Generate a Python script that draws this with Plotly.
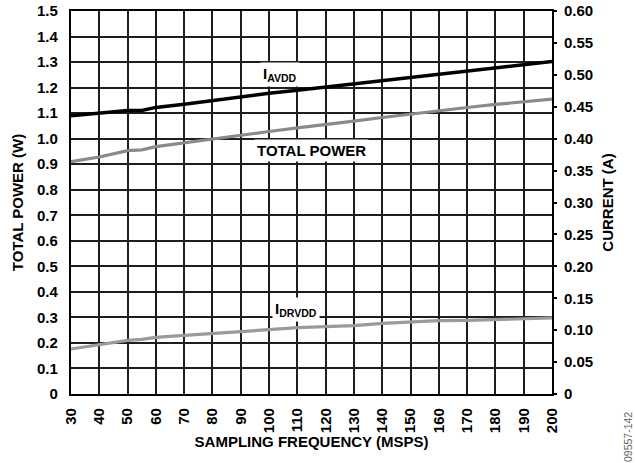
import plotly.graph_objects as go

# Data
freq = [30, 40, 50, 55, 60, 70, 80, 90, 100, 110, 120, 130, 140, 150, 160, 170, 180, 190, 200]
total_power_w = [0.910, 0.928, 0.953, 0.956, 0.969, 0.984, 1.001, 1.014, 1.028, 1.042,
                 1.054, 1.069, 1.083, 1.097, 1.108, 1.122, 1.134, 1.146, 1.155]
i_avdd_a = [0.436, 0.440, 0.444, 0.444, 0.449, 0.454, 0.460, 0.465, 0.471, 0.476,
            0.481, 0.486, 0.491, 0.496, 0.501, 0.506, 0.511, 0.516, 0.521]
i_drvdd_a = [0.0705, 0.0777, 0.0840, 0.0855, 0.0887, 0.0918, 0.0945, 0.0976, 0.1007, 0.1039,
             0.1050, 0.1070, 0.1106, 0.1128, 0.1148, 0.1153, 0.1169, 0.1180, 0.1191]

x_ticks = list(range(30, 201, 10))
left_vals = [round(0.1 * i, 1) for i in range(16)]
left_text = ["0"] + [f"{v:.1f}" for v in left_vals[1:]]
right_vals = [round(0.05 * i, 2) for i in range(13)]
right_text = ["0"] + [f"{v:.2f}" for v in right_vals[1:]]

FONT = "Arial, Liberation Sans, sans-serif"
tickfont = dict(family=FONT, size=15, color="black", weight="bold")
GRID = "#1e1e1e"

fig = go.Figure()
fig.add_trace(go.Scatter(x=freq, y=total_power_w, mode="lines", yaxis="y",
                         line=dict(color="#8a8a8a", width=3.2), showlegend=False))
fig.add_trace(go.Scatter(x=freq, y=i_avdd_a, mode="lines", yaxis="y2",
                         line=dict(color="black", width=3.5), showlegend=False))
fig.add_trace(go.Scatter(x=freq, y=i_drvdd_a, mode="lines", yaxis="y2",
                         line=dict(color="#9a9a9a", width=3.2), showlegend=False))

fig.update_layout(
    width=635, height=463,
    margin=dict(l=71, r=83, t=11, b=69, autoexpand=False),
    paper_bgcolor="white", plot_bgcolor="white",
    font=dict(family=FONT, color="black"),
    xaxis=dict(range=[30, 200], tickvals=x_ticks, ticktext=[str(v) for v in x_ticks],
               tickangle=-90, tickfont=tickfont, showgrid=True, gridcolor=GRID,
               gridwidth=1.5, zeroline=False, showline=True, linecolor="black",
               linewidth=2.2, mirror=True, ticks="", ticklabelstandoff=6,
               automargin=False, ticklabeloverflow="allow",
               title=dict(text="SAMPLING FREQUENCY (MSPS)",
                          font=dict(family=FONT, size=15, weight="bold"), standoff=4)),
    yaxis=dict(range=[0, 1.5], tickvals=left_vals, ticktext=left_text, tickfont=tickfont,
               showgrid=True, gridcolor=GRID, gridwidth=1.5, zeroline=False,
               showline=True, linecolor="black", linewidth=2.2, mirror=True, ticks="",
               ticklabelstandoff=8, automargin=False, ticklabeloverflow="allow",
               title=dict(text="TOTAL POWER (W)",
                          font=dict(family=FONT, size=15, weight="bold"), standoff=10)),
    yaxis2=dict(range=[0, 0.6], tickvals=right_vals, ticktext=right_text, tickfont=tickfont,
                overlaying="y", side="right", anchor="x", showgrid=False, zeroline=False,
                ticks="outside", ticklen=4, tickwidth=1.5, tickcolor="black",
                ticklabelstandoff=4, automargin=False, ticklabeloverflow="allow",
                title=dict(text="CURRENT (A)",
                           font=dict(family=FONT, size=15, weight="bold"), standoff=10)),
    yaxis3=dict(range=[0, 0.6], tickvals=right_vals[1:-1], overlaying="y", side="right",
                anchor="x", showgrid=False, zeroline=False, showticklabels=False,
                ticks="inside", ticklen=4, tickwidth=1.5, tickcolor="black",
                automargin=False),
)

label_font = dict(family=FONT, size=15, color="black", weight="bold")
fig.add_annotation(x=104, y=1.25, xref="x", yref="y", text="I<sub>AVDD</sub>",
                   showarrow=False, font=label_font, bgcolor="white", borderpad=2)
fig.add_annotation(x=115, y=0.955, xref="x", yref="y", text="TOTAL POWER",
                   showarrow=False, font=label_font, bgcolor="white", borderpad=2)
fig.add_annotation(x=109.5, y=0.33, xref="x", yref="y", text="I<sub>DRVDD</sub>",
                   showarrow=False, font=label_font, bgcolor="white", borderpad=2)
fig.add_annotation(xref="paper", yref="paper",
                   x=(628 - 71) / (552 - 71), y=(394 - 437) / (394 - 11),
                   xanchor="center", yanchor="middle",
                   text="09557-142", showarrow=False, textangle=-90,
                   font=dict(family=FONT, size=10.5, color="#666"))

# remove the browser's default 8px body margin so the figure sits at the window origin
fig.write_html("out.html", config={"displayModeBar": False},
               post_script="document.body.style.margin='0';")
